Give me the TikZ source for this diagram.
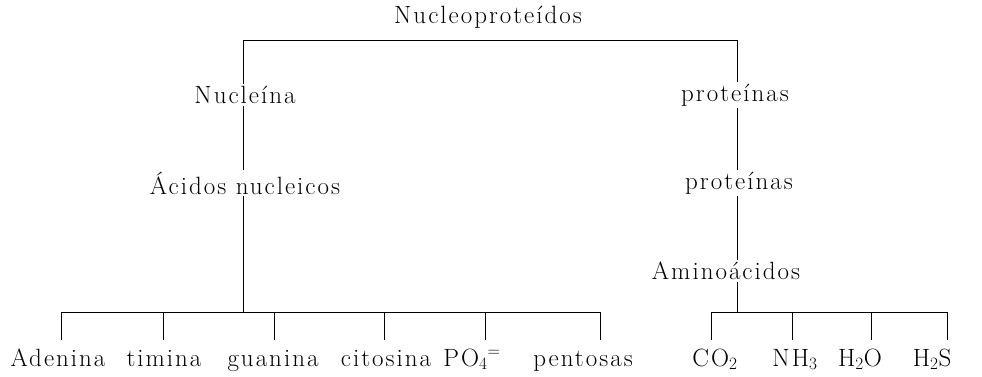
\documentclass[tikz,border=0pt]{standalone}
\usepackage{fontspec}
\setmainfont{Latin Modern Roman}[LetterSpace=8]
\begin{document}
\begin{tikzpicture}[x=1pt,y=-1pt,
  lbl/.style={font=\fontsize{25}{30}\selectfont, inner sep=2pt},
  leaf/.style={font=\fontsize{25}{30}\selectfont, inner sep=0pt, anchor=base},
  ln/.style={line width=1pt, black}]
\useasboundingbox (0,0) rectangle (982,377);
% upper nodes
\node[lbl] (np)  at (488,17)  {Nucleoproteídos};
\node[lbl] (nuc) at (245,95)  {Nucleína};
\node[lbl] (pr1) at (735,95)  {proteínas};
\node[lbl] (ac)  at (245,183) {Ácidos nucleicos};
\node[lbl] (pr2) at (739,183) {proteínas};
\node[lbl] (am)  at (726,271) {Aminoácidos};
% leaves
\node[leaf] (ade) at (58,366)  {Adenina};
\node[leaf] (tim) at (164,366) {timina};
\node[leaf] (gua) at (273,366) {guanina};
\node[leaf] (cit) at (386,366) {citosina};
\node[leaf] (po)  at (472,366) {PO$_4{}^{=}$};
\node[leaf] (pen) at (583,366) {pentosas};
\node[leaf] (co)  at (715,366) {CO$_2$};
\node[leaf] (nh)  at (795,366) {NH$_3$};
\node[leaf] (hho) at (860,366) {H$_2$O};
\node[leaf] (hhs) at (932,366) {H$_2$S};
% junction coordinates
\coordinate (tl) at (243,41);
\coordinate (tr) at (737,41);
\coordinate (bl) at (243,312);
\coordinate (br) at (737,312);
\foreach \n/\x in {a/61,b/163,c/274,d/384,e/485,f/600,g/711,h/792,i/871,j/947}{
  \coordinate (t\n) at (\x,312);
  \coordinate (e\n) at (\x,340);
}
% connectors
\draw[ln] (nuc.north -| tl) -- (tl) -- (tr) -- (pr1.north -| tr);
\draw[ln] (nuc.south -| tl) -- (ac.north -| tl);
\draw[ln] (ac.south -| bl) -- (bl);
\draw[ln] (pr1.south -| tr) -- (pr2.north -| tr);
\draw[ln] (pr2.south -| tr) -- (am.north -| tr);
\draw[ln] (am.south -| br) -- (br);
\draw[ln] (ta) -- (tf);
\draw[ln] (tg) -- (tj);
\foreach \n in {a,b,c,d,e,f,g,h,i,j}{
  \draw[ln] (t\n) -- (e\n);
}
\end{tikzpicture}
\end{document}
